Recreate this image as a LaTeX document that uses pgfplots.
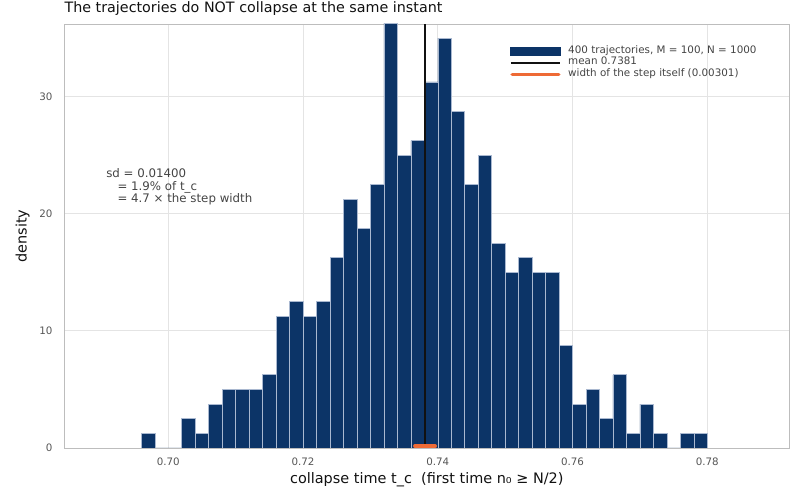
\documentclass[border=0pt]{standalone}
\usepackage{fontspec}
\setmainfont{DejaVu Sans}
\usepackage{pgfplots}
\usepackage{pgfplotstable}
\pgfplotsset{compat=1.18}
\definecolor{navy}{HTML}{0C3467}
\definecolor{edgec}{HTML}{A9B8D0}
\definecolor{orng}{HTML}{EE6A35}
\definecolor{gridc}{HTML}{E4E4E4}
\definecolor{spine}{HTML}{BDBDBD}
\definecolor{tickc}{HTML}{555555}
\definecolor{annc}{HTML}{444444}
\definecolor{titlec}{HTML}{111111}
\pgfplotstableread{
x y
0.696 1.25
0.698 0
0.700 0
0.702 2.5
0.704 1.25
0.706 3.75
0.708 5
0.710 5
0.712 5
0.714 6.25
0.716 11.25
0.718 12.5
0.720 11.25
0.722 12.5
0.724 16.25
0.726 21.25
0.728 18.75
0.730 22.5
0.732 36.25
0.734 25
0.736 26.25
0.738 31.25
0.740 35
0.742 28.75
0.744 22.5
0.746 25
0.748 17.5
0.750 15
0.752 16.25
0.754 15
0.756 15
0.758 8.75
0.760 3.75
0.762 5
0.764 2.5
0.766 6.25
0.768 1.25
0.770 3.75
0.772 1.25
0.774 0
0.776 1.25
0.778 1.25
0.780 0
}\histdata
\pgfplotsset{
  barleg/.style={legend image code/.code={\fill[navy] (0pt,-2.9pt) rectangle (35.5pt,2.9pt);}},
  meanleg/.style={legend image code/.code={\draw[line width=1.1pt, titlec] (0pt,0pt) -- (35.5pt,0pt);}},
  stepleg/.style={legend image code/.code={\draw[line width=2.6pt, orng, line cap=round] (1pt,0pt) -- (34.5pt,0pt);}},
}
\begin{document}
\begin{tikzpicture}
\path[use as bounding box] (0,0) rectangle (576pt,358.56pt);
\begin{axis}[
  at={(46.3pt,36pt)}, anchor=south west,
  scale only axis, width=522pt, height=305.28pt,
  xmin=0.68456, xmax=0.79217, ymin=0, ymax=36.2,
  xtick={0.70,0.72,0.74,0.76,0.78}, ytick={0,10,20,30},
  scaled x ticks=false,
  /pgf/number format/assume math mode=true,
  xticklabel style={/pgf/number format/fixed, /pgf/number format/fixed zerofill, /pgf/number format/precision=2, anchor=north, inner sep=0pt, yshift=-6.7pt},
  yticklabel style={anchor=east, inner sep=0pt, xshift=-8.35pt},
  tick label style={font=\fontsize{7.4}{8}\selectfont, text=tickc},
  major tick length=0pt,
  grid=major, major grid style={line width=0.6pt, draw=gridc},
  axis line style={line width=0.7pt, draw=spine},
  every axis title shift=0pt,
  title={The trajectories do NOT collapse at the same instant},
  title style={at={(axis description cs:0,1)}, anchor=base west, inner sep=0pt, yshift=8.1pt, font=\fontsize{10.3}{12}\selectfont, text=titlec},
  xlabel={collapse time t\_c\hspace{0.636em}(first time n₀ ≥ N/2)},
  xlabel style={at={(axis description cs:0.5,0)}, anchor=base, inner sep=0pt, yshift=-25.9pt, font=\fontsize{10.4}{12}\selectfont, text=titlec},
  ylabel={density},
  ylabel style={at={([xshift=-27.1pt]axis description cs:0,0.5)}, anchor=base, inner sep=0pt, font=\fontsize{10.4}{12}\selectfont, text=titlec},
  legend style={at={(rel axis cs:0.6148,0.9498)}, anchor=north west, draw=none, fill=none, inner sep=0pt, outer sep=0pt, row sep=0pt, column sep=5.3pt, font=\fontsize{7.45}{8.4}\selectfont, text=annc, nodes={inner sep=0pt, text height=5.6pt, text depth=2.8pt}},
  legend cell align=left,
]
\addplot[ybar interval, fill=navy, draw=edgec, line width=0.45pt, barleg]
  table[x=x,y=y] {\histdata};
\addlegendentry{400 trajectories, M = 100, N = 1000}
\addplot[line width=1.1pt, draw=titlec, meanleg]
  coordinates {(0.7381,0) (0.7381,36.2)};
\addlegendentry{mean 0.7381}
\addplot[line width=2.6pt, draw=orng, line cap=round, stepleg]
  coordinates {(0.736595,0.16) (0.739605,0.16)};
\addlegendentry{width of the step itself (0.00301)}
\node[anchor=north west, inner sep=0pt, align=left, font=\fontsize{8.5}{9.2}\selectfont, text=annc] at (rel axis cs:0.0575,0.6604) {sd = 0.01400\\\hspace*{0.954em}= 1.9\% of t\_c\\\hspace*{0.954em}= 4.7 × the step width};
\end{axis}
\end{tikzpicture}
\end{document}
